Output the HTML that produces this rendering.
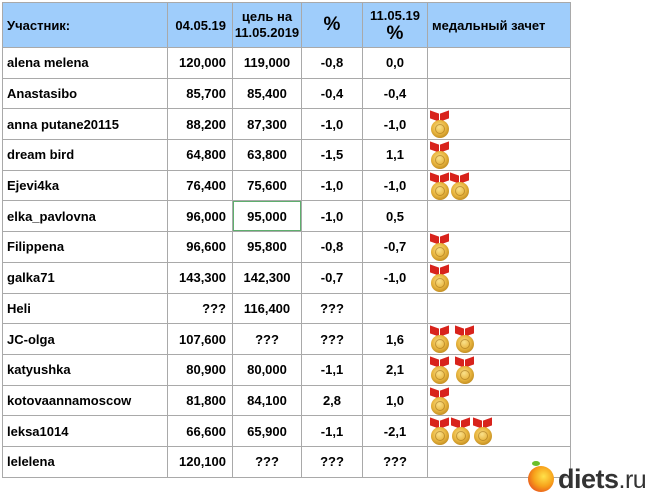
<!DOCTYPE html>
<html><head><meta charset="utf-8">
<style>
html,body{margin:0;padding:0;background:#fff;width:650px;height:504px;overflow:hidden}
body{font-family:"Liberation Sans",Arial,sans-serif;position:relative}
table{position:absolute;left:2px;top:2px;border-collapse:collapse;table-layout:fixed;width:568px}
td{border:1px solid #a9a9a9;font-weight:bold;font-size:13px;color:#000;padding:0 4px;height:29.7px;white-space:nowrap;overflow:hidden}
tr.h td{background:#9fcdfb;height:44px}
td.c{text-align:center}
td.r{text-align:right;padding-right:6px}
.m{position:absolute;width:20px;height:28px}
.m .g{position:absolute;left:1px;top:9px;width:18px;height:18px;border-radius:50%;background:radial-gradient(circle at 45% 40%,#f9e08a 0,#e9b640 45%,#b07a12 90%)}
.m .g:after{content:"";position:absolute;left:4px;top:4px;width:10px;height:10px;border-radius:50%;border:1px solid rgba(140,90,10,.45);box-sizing:border-box}
.m .b1,.m .b2{position:absolute;top:1px;width:9px;height:8px;background:#d8231c}
.m .b1{left:0;transform:skewY(20deg)}
.m .b2{left:10px;transform:skewY(-20deg)}
.logo{position:absolute;left:528px;top:466px;width:26px;height:26px;border-radius:50%;background:radial-gradient(circle at 60% 40%,#ffe24a 0,#f7a21b 45%,#e5401c 90%)}
.leaf{position:absolute;left:532px;top:461px;width:8px;height:5px;background:#6cbf2a;border-radius:50%}
.txt{position:absolute;left:558px;top:464px;font-size:27px;font-weight:bold;color:#333;letter-spacing:-0.5px}
.txt span{font-weight:normal;font-size:25px}
</style></head><body>
<table>
<colgroup><col style="width:165px"><col style="width:65px"><col style="width:69px"><col style="width:61px"><col style="width:65px"><col style="width:143px"></colgroup>
<tr class="h"><td>Участник:</td><td class="r">04.05.19</td><td class="c" style="line-height:16px;padding:0">цель на<br>11.05.2019</td><td class="c" style="font-size:19px">%</td><td class="c" style="line-height:18px">11.05.19<br><span style="font-size:19px">%</span></td><td>медальный зачет</td></tr>
<tr><td>alena melena</td><td class="r">120,000</td><td class="c">119,000</td><td class="c">-0,8</td><td class="c">0,0</td><td></td></tr>
<tr><td>Anastasibo</td><td class="r">85,700</td><td class="c">85,400</td><td class="c">-0,4</td><td class="c">-0,4</td><td></td></tr>
<tr><td>anna putane20115</td><td class="r">88,200</td><td class="c">87,300</td><td class="c">-1,0</td><td class="c">-1,0</td><td></td></tr>
<tr><td>dream bird</td><td class="r">64,800</td><td class="c">63,800</td><td class="c">-1,5</td><td class="c">1,1</td><td></td></tr>
<tr><td>Ejevi4ka</td><td class="r">76,400</td><td class="c">75,600</td><td class="c">-1,0</td><td class="c">-1,0</td><td></td></tr>
<tr><td>elka_pavlovna</td><td class="r">96,000</td><td class="c" style="box-shadow:inset 0 0 0 1px #5fae6e">95,000</td><td class="c">-1,0</td><td class="c">0,5</td><td></td></tr>
<tr><td>Filippena</td><td class="r">96,600</td><td class="c">95,800</td><td class="c">-0,8</td><td class="c">-0,7</td><td></td></tr>
<tr><td>galka71</td><td class="r">143,300</td><td class="c">142,300</td><td class="c">-0,7</td><td class="c">-1,0</td><td></td></tr>
<tr><td>Heli</td><td class="r">???</td><td class="c">116,400</td><td class="c">???</td><td class="c"></td><td></td></tr>
<tr><td>JC-olga</td><td class="r">107,600</td><td class="c">???</td><td class="c">???</td><td class="c">1,6</td><td></td></tr>
<tr><td>katyushka</td><td class="r">80,900</td><td class="c">80,000</td><td class="c">-1,1</td><td class="c">2,1</td><td></td></tr>
<tr><td>kotovaannamoscow</td><td class="r">81,800</td><td class="c">84,100</td><td class="c">2,8</td><td class="c">1,0</td><td></td></tr>
<tr><td>leksa1014</td><td class="r">66,600</td><td class="c">65,900</td><td class="c">-1,1</td><td class="c">-2,1</td><td></td></tr>
<tr><td>lelelena</td><td class="r">120,100</td><td class="c">???</td><td class="c">???</td><td class="c">???</td><td></td></tr>
</table>

<div class="m" style="left:430px;top:111px"><div class="b1"></div><div class="b2"></div><div class="g"></div></div>
<div class="m" style="left:430px;top:142px"><div class="b1"></div><div class="b2"></div><div class="g"></div></div>
<div class="m" style="left:430px;top:173px"><div class="b1"></div><div class="b2"></div><div class="g"></div></div>
<div class="m" style="left:450px;top:173px"><div class="b1"></div><div class="b2"></div><div class="g"></div></div>
<div class="m" style="left:430px;top:234px"><div class="b1"></div><div class="b2"></div><div class="g"></div></div>
<div class="m" style="left:430px;top:265px"><div class="b1"></div><div class="b2"></div><div class="g"></div></div>
<div class="m" style="left:430px;top:326px"><div class="b1"></div><div class="b2"></div><div class="g"></div></div>
<div class="m" style="left:455px;top:326px"><div class="b1"></div><div class="b2"></div><div class="g"></div></div>
<div class="m" style="left:430px;top:357px"><div class="b1"></div><div class="b2"></div><div class="g"></div></div>
<div class="m" style="left:455px;top:357px"><div class="b1"></div><div class="b2"></div><div class="g"></div></div>
<div class="m" style="left:430px;top:388px"><div class="b1"></div><div class="b2"></div><div class="g"></div></div>
<div class="m" style="left:430px;top:418px"><div class="b1"></div><div class="b2"></div><div class="g"></div></div>
<div class="m" style="left:451px;top:418px"><div class="b1"></div><div class="b2"></div><div class="g"></div></div>
<div class="m" style="left:473px;top:418px"><div class="b1"></div><div class="b2"></div><div class="g"></div></div>

<div class="logo"></div><div class="leaf"></div>
<div class="txt">diets<span>.ru</span></div>
</body></html>
